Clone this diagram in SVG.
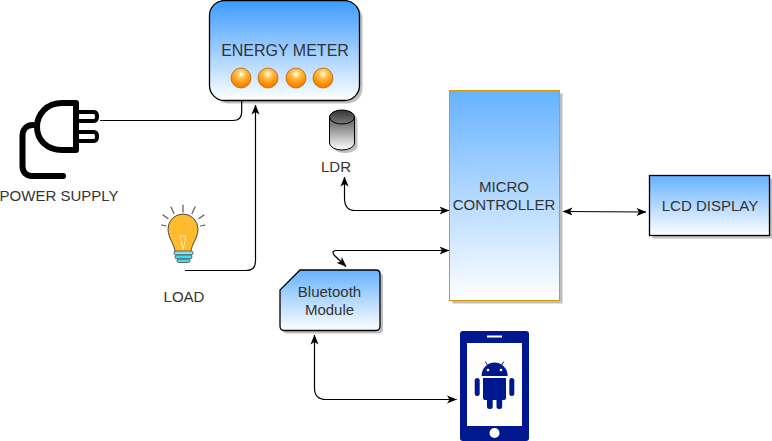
<svg xmlns="http://www.w3.org/2000/svg" width="772" height="441" viewBox="0 0 772 441">
<style>
text{font-family:"Liberation Sans",Arial,sans-serif;font-size:15px;fill:#333;text-anchor:middle}
.box{stroke:#000;stroke-width:1.3}
.sh{fill:#000;fill-opacity:.25}
.c{fill:none;stroke:#000;stroke-width:1.2}
.plug{fill:none;stroke:#000;stroke-linejoin:round;stroke-linecap:round}
.navy{fill:#00188f}
.ray{stroke:#5a5a5a;stroke-width:1.2;fill:none;stroke-linecap:round}
</style>
<defs>
<linearGradient id="blue" x1="0" y1="0" x2="0" y2="1"><stop offset="0" stop-color="#66b2ff"/><stop offset="1" stop-color="#fff"/></linearGradient>
<linearGradient id="blue2" x1="0" y1="0" x2="0" y2="1"><stop offset="0" stop-color="#3d9bff"/><stop offset="1" stop-color="#fff"/></linearGradient>
<linearGradient id="cyl" x1="0" y1="0" x2="0" y2="1"><stop offset="0" stop-color="#333"/><stop offset="1" stop-color="#fff"/></linearGradient>
<radialGradient id="led" cx=".5" cy=".3" r=".7"><stop offset="0" stop-color="#fff"/><stop offset=".3" stop-color="#ffc34d"/><stop offset=".75" stop-color="#ff8c00"/><stop offset="1" stop-color="#e67e00"/></radialGradient>
<marker id="a" viewBox="0 0 10 10" refX="9.500" refY="5" markerWidth="10" markerHeight="10" markerUnits="userSpaceOnUse" orient="auto-start-reverse"><path d="M0 1 L10 5 L0 9 L2.500 5Z" fill="#000"/></marker>
<circle id="l" r="10" fill="url(#led)" stroke="#b5651d" stroke-width=".8"/>
</defs>

<g id="connectors">
<path class="c" d="M100 120.500H233Q241.700 120.500 241.700 112V101"/>
<path class="c" d="M185 270.500H246Q255.500 270.500 255.500 261V105" marker-end="url(#a)"/>
<path class="c" d="M344.500 177V198Q344.500 210.500 355 210.500H449" marker-start="url(#a)" marker-end="url(#a)"/>
<path class="c" d="M346 266.500L334 255Q331 250.500 337 250.500H449" marker-start="url(#a)" marker-end="url(#a)"/>
<path class="c" d="M314.500 335V388Q314.500 399.500 326 399.500H456.500" marker-start="url(#a)" marker-end="url(#a)"/>
<path class="c" d="M563 211.500L646 212" marker-start="url(#a)" marker-end="url(#a)"/>
</g>

<g id="power-supply">
<path class="plug" stroke-width="6" d="M76 103H62C47 103 37 114 37 127S47 150 62 150H76Z"/>
<path class="plug" stroke-width="4" d="M79 112H94Q97 112 97 116.500T94 121H79M79 132H94Q97 132 97 136.500T94 141H79"/>
<path class="plug" stroke-width="6" d="M33 125C26 125 22.500 130 22.500 136V166C22.500 172 26 176 32 176H63"/>
<text x="59" y="201">POWER SUPPLY</text>
</g>

<g id="load">
<path class="ray" d="M183 205V212M171 207L174 213.500M195 207L192 213.500M163 215L168 218.500M204 215L199 218.500M161.500 225L166 226M205 225L200.500 226"/>
<path d="M175 252C175 245 168 238 168 229A15 15 0 0 1 198 229C198 238 191 245 191 252Z" fill="#fdbb2d" stroke="#4a4a4a" stroke-width="1"/>
<path d="M180 236L183 250L186 236Z" fill="none" stroke="#ffe9a8" stroke-width="1"/>
<rect x="174" y="251" width="19" height="4" rx="2" fill="#8adfe8" stroke="#4a4a4a" stroke-width=".8"/>
<rect x="175" y="255" width="17" height="4" rx="2" fill="#46d7e8" stroke="#4a4a4a" stroke-width=".8"/>
<rect x="177" y="259" width="13" height="3.500" rx="1.700" fill="#46d7e8" stroke="#4a4a4a" stroke-width=".8"/>
<text x="184" y="302">LOAD</text>
</g>

<g id="energy-meter">
<rect class="sh" x="212.500" y="3.500" width="150" height="100" rx="15"/>
<rect class="box" x="209.500" y="0.500" width="150" height="100" rx="15" fill="url(#blue2)"/>
<text x="285" y="56" style="font-size:16px">ENERGY METER</text>
<use href="#l" x="241" y="78"/><use href="#l" x="268" y="78"/><use href="#l" x="296" y="78"/><use href="#l" x="323" y="78"/>
</g>

<g id="ldr">
<path class="sh" d="M332.500 120A12.500 7 0 0 1 357.500 120V146A12.500 7 0 0 1 332.500 146Z"/>
<path d="M329.500 117A12.500 7 0 0 1 354.500 117V143A12.500 7 0 0 1 329.500 143Z" fill="url(#cyl)" stroke="#000"/>
<path d="M329.500 117A12.500 7 0 0 0 354.500 117" fill="none" stroke="#000"/>
<text x="336" y="172">LDR</text>
</g>

<g id="micro-controller">
<rect class="sh" x="452.500" y="93.500" width="110" height="210"/>
<rect x="449.500" y="90.500" width="110" height="210" fill="url(#blue)" stroke="#d79b00"/>
<text x="504" y="192">MICRO</text>
<text x="504" y="210">CONTROLLER</text>
</g>

<g id="lcd-display">
<rect class="sh" x="652.500" y="178.500" width="120" height="60"/>
<rect class="box" x="649.500" y="175.500" width="120" height="60" fill="url(#blue)"/>
<text x="710" y="211">LCD DISPLAY</text>
</g>

<g id="bluetooth-module">
<path class="sh" d="M303 273H379Q383 273 383 277V329Q383 333.500 379 333.500H287Q283 333.500 283 329V293Z"/>
<path class="box" d="M300 270H376Q380 270 380 274V326Q380 330.500 376 330.500H284Q280 330.500 280 326V290Z" fill="url(#blue)" stroke-width="1.600"/>
<text x="329.500" y="297">Bluetooth</text>
<text x="329.500" y="315">Module</text>
</g>

<g id="phone">
<rect class="navy" x="460" y="331" width="69" height="110" rx="3"/>
<rect x="467" y="343" width="55" height="83" fill="#fff"/>
<rect x="487" y="335.500" width="15" height="2" fill="#fff"/>
<circle cx="494.500" cy="433" r="5" fill="#fff"/>
<path class="navy" d="M481.500 376A13 13.500 0 0 1 507.700 376Z"/>
<path d="M485.300 361.500L488.500 367M503.800 361.500L500.600 367" stroke="#00188f" stroke-width="1"/>
<circle cx="488" cy="370" r="1.300" fill="#fff"/><circle cx="501" cy="370" r="1.300" fill="#fff"/>
<path class="navy" d="M483 378H506V398Q506 400 504 400H485Q483 400 483 398Z"/>
<rect class="navy" x="474.700" y="378" width="5" height="18" rx="2.500"/>
<rect class="navy" x="509.300" y="378" width="5" height="18" rx="2.500"/>
<rect class="navy" x="487" y="398" width="5.700" height="11" rx="2.500"/>
<rect class="navy" x="496.500" y="398" width="5.700" height="11" rx="2.500"/>
</g>
</svg>
